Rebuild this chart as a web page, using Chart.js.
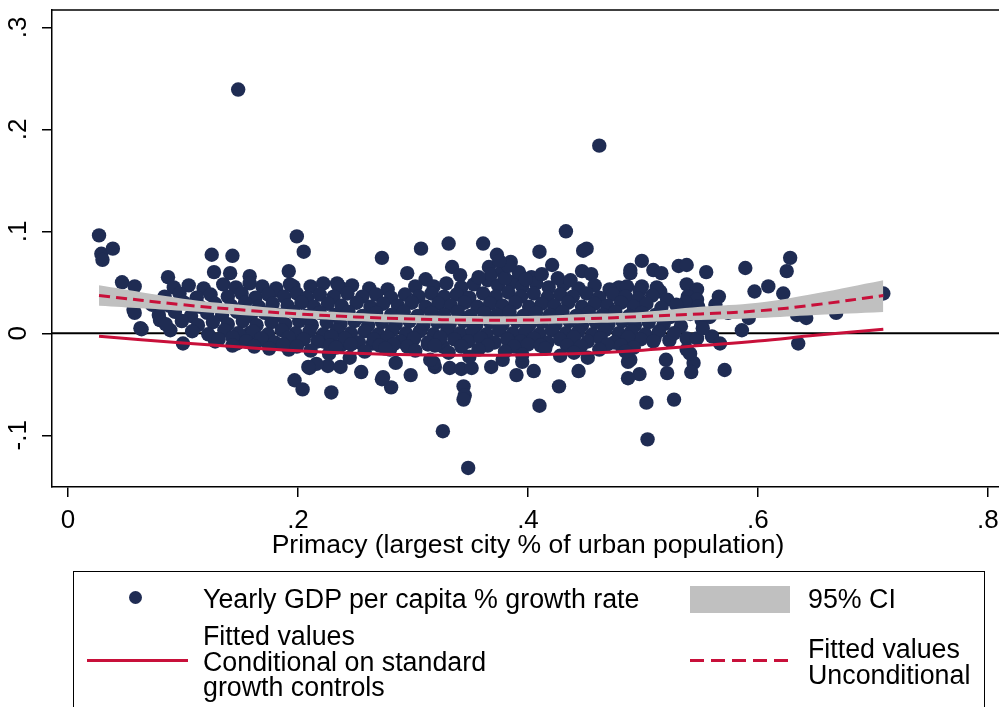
<!DOCTYPE html>
<html>
<head>
<meta charset="utf-8">
<script src="https://cdn.jsdelivr.net/npm/chart.js@4/dist/chart.umd.min.js"></script>
<style>
  body { margin:0; background:#fff; }
  #wrap { position:relative; width:999px; height:707px; overflow:hidden; font-family:"Liberation Sans", Arial, sans-serif; color:#000; }
  #chart { position:absolute; left:0; top:0; }
  .lg { position:absolute; white-space:nowrap; font-size:26.8px; line-height:25.5px; }
  #legend-box { position:absolute; left:73px; top:571px; width:912px; height:160px; border:1.5px solid #000; box-sizing:border-box; }
</style>
</head>
<body>
<div id="wrap">
  <canvas id="chart" width="999" height="707"></canvas>
  <div id="legend-box"></div>
  <div class="lg" style="left:129px;top:591px;width:13px;height:13px;border-radius:50%;background:#1f2c53;"></div>
  <div class="lg" style="left:203px;top:587px;">Yearly GDP per capita % growth rate</div>
  <div class="lg" style="left:690px;top:586px;width:100px;height:27px;background:#c0c0c0;"></div>
  <div class="lg" style="left:808px;top:587px;">95% CI</div>
  <div class="lg" style="left:87px;top:659px;width:101px;height:3px;background:#c8103a;"></div>
  <div class="lg" style="left:203px;top:624px;">Fitted values<br>Conditional on standard<br>growth controls</div>
  <div class="lg" style="left:690px;top:659px;width:100px;height:3px;background:repeating-linear-gradient(90deg,#c8103a 0 14px,transparent 14px 21px);"></div>
  <div class="lg" style="left:808px;top:637px;">Fitted values<br>Unconditional</div>
</div>
<script>
// axes
const xTicks = [0, 0.2, 0.4, 0.6, 0.8];
const xTickLabels = ['0', '.2', '.4', '.6', '.8'];
const yTicks = [-0.1, 0, 0.1, 0.2, 0.3];
const yTickLabels = ['-.1', '0', '.1', '.2', '.3'];
const xTitle = 'Primacy (largest city % of urban population)';

// fitted curves
const fitX           = [0.027, 0.1, 0.15, 0.2, 0.25, 0.3, 0.35, 0.4, 0.45, 0.5, 0.55, 0.6, 0.65, 0.709];
const fitConditional = [-0.003, -0.0095, -0.0135, -0.017, -0.0195, -0.021, -0.0215, -0.021, -0.0195, -0.0165, -0.012, -0.0075, -0.002, 0.004];
const fitUncond      = [0.037, 0.028, 0.023, 0.019, 0.016, 0.014, 0.013, 0.013, 0.0143, 0.0165, 0.019, 0.022, 0.028, 0.037];
const ciLow          = [0.027, 0.022, 0.018, 0.015, 0.012, 0.010, 0.009, 0.009, 0.010, 0.011, 0.013, 0.015, 0.018, 0.021];
const ciHigh         = [0.047, 0.034, 0.028, 0.023, 0.020, 0.018, 0.017, 0.017, 0.019, 0.021, 0.026, 0.030, 0.039, 0.052];

// scatter: [primacy, growth]
const outlierPoints = [
  [0.148,0.239],[0.462,0.184],
  [0.027,0.096],[0.029,0.078],[0.039,0.083],[0.030,0.072],
  [0.047,0.050],[0.058,0.046],[0.057,0.023],[0.073,0.028],[0.063,0.005],[0.058,0.020],[0.064,0.004],[0.080,0.013],[0.089,0.003],
  [0.087,0.055],[0.125,0.077],[0.143,0.076],[0.127,0.060],[0.141,0.059],[0.199,0.095],[0.205,0.080],[0.192,0.061],[0.158,0.056],[0.234,0.049],
  [0.273,0.074],[0.307,0.083],[0.331,0.088],[0.361,0.088],[0.433,0.100],[0.410,0.080],[0.451,0.083],[0.448,0.081],[0.295,0.059],[0.311,0.053],
  [0.334,0.065],[0.373,0.077],[0.366,0.065],[0.341,0.057],[0.421,0.067],[0.447,0.061],[0.455,0.058],[0.489,0.062],[0.479,0.045],[0.302,0.046],
  [0.393,0.057],[0.403,0.055],
  [0.499,0.071],[0.489,0.059],[0.509,0.062],[0.516,0.059],[0.531,0.066],[0.538,0.067],[0.555,0.060],[0.589,0.064],[0.628,0.074],[0.625,0.061],
  [0.609,0.046],[0.597,0.041],[0.622,0.039],[0.566,0.036],[0.538,0.048],[0.547,0.043],[0.499,0.046],[0.515,0.041],[0.709,0.039],
  [0.539,0.036],[0.547,0.033],[0.538,0.025],[0.548,0.021],[0.551,0.013],[0.592,0.015],[0.586,0.003],[0.634,0.018],[0.642,0.015],[0.668,0.020],[0.635,-0.010],
  [0.520,-0.026],[0.489,-0.026],[0.544,-0.029],[0.571,-0.036],[0.521,-0.039],[0.542,-0.038],[0.497,-0.040],[0.560,-0.003],[0.538,-0.005],[0.547,-0.005],
  [0.567,-0.010],[0.510,-0.005],[0.523,-0.007],[0.538,-0.016],[0.541,-0.020],
  [0.326,-0.096],[0.348,-0.132],[0.410,-0.071],[0.427,-0.052],[0.444,-0.037],[0.390,-0.041],[0.405,-0.037],[0.368,-0.033],[0.344,-0.052],[0.345,-0.061],
  [0.344,-0.065],[0.332,-0.034],[0.342,-0.035],[0.351,-0.034],[0.487,-0.044],[0.503,-0.068],[0.504,-0.104],[0.527,-0.065],[0.487,-0.028],[0.395,-0.028],[0.378,-0.026],
  [0.197,-0.046],[0.204,-0.055],[0.229,-0.058],[0.210,-0.034],[0.226,-0.032],[0.237,-0.033],[0.255,-0.038],[0.273,-0.045],[0.281,-0.053],[0.298,-0.041],
  [0.285,-0.029],[0.319,-0.033],[0.318,-0.029],
  [0.100,-0.010],[0.128,-0.008],[0.147,-0.010],[0.192,-0.016],[0.222,-0.008],[0.237,-0.012],[0.227,-0.020],[0.245,-0.024],[0.216,-0.030],[0.265,-0.010],
  [0.280,-0.016],[0.313,-0.011],[0.326,-0.013],[0.315,-0.026],[0.171,-0.007],[0.158,0.000],[0.167,-0.005],[0.274,-0.043],[0.209,-0.033],
  [0.181,0.042],[0.196,0.046],[0.235,0.047]
];

const corePoints = [
  // upper edge of the cloud
  [0.092,0.045],[0.105,0.047],[0.118,0.044],[0.135,0.048],[0.146,0.045],[0.158,0.049],[0.169,0.046],[0.181,0.044],[0.193,0.048],[0.211,0.046],
  [0.222,0.049],[0.236,0.045],[0.247,0.047],[0.262,0.044],[0.278,0.043],[0.318,0.046],[0.329,0.049],[0.342,0.045],[0.353,0.048],[0.365,0.052],
  [0.374,0.047],[0.386,0.050],[0.395,0.046],[0.407,0.049],[0.418,0.045],[0.431,0.048],[0.444,0.044],[0.458,0.047],[0.471,0.043],[0.486,0.046],
  [0.497,0.042],[0.512,0.045],
  [0.368,0.058],[0.378,0.062],[0.385,0.070],[0.392,0.060],[0.380,0.054],[0.398,0.053],[0.412,0.058],[0.357,0.055],[0.426,0.054],[0.437,0.052],
  [0.383,0.066],[0.375,0.071],
  [0.084,0.036],[0.097,0.039],[0.112,0.035],[0.124,0.038],[0.139,0.036],[0.151,0.039],[0.163,0.035],[0.174,0.038],[0.188,0.036],[0.199,0.039],
  [0.208,0.035],[0.219,0.038],[0.231,0.036],[0.243,0.039],[0.256,0.036],[0.268,0.038],[0.281,0.035],[0.293,0.038],[0.305,0.036],[0.316,0.039],
  [0.327,0.036],[0.338,0.038],[0.349,0.035],[0.361,0.039],[0.372,0.036],[0.383,0.040],[0.394,0.036],[0.405,0.039],[0.417,0.035],[0.428,0.038],
  [0.439,0.036],[0.451,0.039],[0.462,0.035],[0.474,0.038],[0.485,0.036],[0.496,0.034],[0.508,0.037],[0.521,0.033],[0.537,0.030],
  [0.088,0.027],[0.101,0.030],[0.115,0.026],[0.128,0.029],[0.142,0.027],[0.154,0.030],[0.166,0.026],[0.178,0.029],[0.191,0.027],[0.203,0.030],
  [0.214,0.026],[0.226,0.029],[0.238,0.027],[0.251,0.030],[0.263,0.026],[0.274,0.029],[0.287,0.027],[0.299,0.030],[0.311,0.026],[0.322,0.029],
  [0.333,0.027],[0.345,0.030],[0.356,0.026],[0.367,0.029],[0.378,0.027],[0.389,0.030],[0.401,0.026],[0.412,0.029],[0.423,0.027],[0.435,0.030],
  [0.447,0.026],[0.458,0.029],[0.469,0.027],[0.481,0.030],[0.492,0.026],[0.503,0.029],[0.516,0.025],[0.529,0.028],[0.548,0.026],[0.563,0.028],
  [0.079,0.018],[0.093,0.021],[0.107,0.017],[0.121,0.020],[0.134,0.018],[0.147,0.021],[0.159,0.017],[0.171,0.020],[0.184,0.018],[0.196,0.021],
  [0.207,0.017],[0.219,0.020],[0.232,0.018],[0.244,0.021],[0.256,0.017],[0.268,0.020],[0.281,0.018],[0.292,0.021],[0.304,0.017],[0.316,0.020],
  [0.327,0.018],[0.339,0.021],[0.350,0.017],[0.362,0.020],[0.373,0.018],[0.384,0.021],[0.396,0.017],[0.407,0.020],[0.419,0.018],[0.430,0.021],
  [0.442,0.017],[0.453,0.020],[0.465,0.018],[0.476,0.021],[0.488,0.017],[0.499,0.020],[0.511,0.018],[0.524,0.016],[0.541,0.019],[0.558,0.016],[0.574,0.020],
  [0.085,0.009],[0.099,0.012],[0.113,0.008],[0.126,0.011],[0.139,0.009],[0.152,0.012],[0.164,0.008],[0.177,0.011],[0.189,0.009],[0.201,0.012],
  [0.212,0.008],[0.225,0.011],[0.237,0.009],[0.249,0.012],[0.261,0.008],[0.273,0.011],[0.285,0.009],[0.297,0.012],[0.309,0.008],[0.321,0.011],
  [0.332,0.009],[0.344,0.012],[0.355,0.008],[0.367,0.011],[0.378,0.009],[0.390,0.012],[0.401,0.008],[0.412,0.011],[0.424,0.009],[0.436,0.012],
  [0.447,0.008],[0.459,0.011],[0.470,0.009],[0.482,0.012],[0.493,0.008],[0.505,0.011],[0.518,0.009],[0.533,0.007],[0.552,0.005],
  [0.108,0.002],[0.122,-0.001],[0.136,0.003],[0.148,0.000],[0.161,0.002],[0.174,-0.001],[0.186,0.003],[0.198,0.000],[0.210,0.002],[0.222,-0.001],
  [0.234,0.003],[0.246,0.000],[0.258,0.002],[0.270,-0.001],[0.282,0.003],[0.294,0.000],[0.306,0.002],[0.318,-0.001],[0.330,0.003],[0.341,0.000],
  [0.352,0.002],[0.364,-0.001],[0.375,0.003],[0.387,0.000],[0.398,0.002],[0.410,-0.001],[0.421,0.003],[0.433,0.000],[0.444,0.002],[0.456,-0.001],
  [0.467,0.003],[0.479,0.000],[0.490,0.002],[0.502,-0.001],[0.514,0.002],[0.527,0.000],
  [0.131,-0.006],[0.155,-0.008],[0.168,-0.005],[0.180,-0.009],[0.205,-0.006],[0.217,-0.008],[0.241,-0.005],[0.253,-0.009],[0.266,-0.006],[0.289,-0.008],
  [0.301,-0.005],[0.313,-0.009],[0.336,-0.006],[0.348,-0.008],[0.359,-0.005],[0.371,-0.009],[0.382,-0.006],[0.394,-0.008],[0.405,-0.005],[0.417,-0.009],
  [0.428,-0.006],[0.452,-0.008],[0.463,-0.005],[0.475,-0.009],[0.498,-0.006],
  [0.143,-0.004],[0.192,-0.004],[0.229,-0.003],[0.278,-0.004],[0.324,-0.004],[0.440,-0.004],[0.487,-0.004],[0.509,-0.008],
  [0.143,-0.012],[0.162,-0.013],[0.187,-0.011],[0.199,-0.013],[0.228,-0.012],[0.246,-0.011],[0.271,-0.012],[0.283,-0.011],[0.295,-0.013],[0.319,-0.012],
  [0.342,-0.013],[0.365,-0.012],[0.388,-0.013],[0.400,-0.011],[0.411,-0.012],[0.434,-0.012],[0.446,-0.013],[0.469,-0.011],[0.481,-0.012],[0.492,-0.014],
  // lower edge
  [0.175,-0.015],[0.211,-0.017],[0.233,-0.014],[0.258,-0.018],[0.276,-0.015],[0.302,-0.017],[0.331,-0.019],[0.357,-0.016],[0.380,-0.018],[0.415,-0.015],
  [0.440,-0.019],[0.462,-0.016],[0.485,-0.018],[0.395,-0.021],[0.349,-0.023],[0.452,-0.024],[0.428,-0.022]
];

const NAVY = '#1f2c53';
const RED = '#c8103a';
const FONT = '"Liberation Sans", Arial, sans-serif';

const toXY = (xs, ys) => xs.map((x, i) => ({x, y: ys[i]}));
const scatterData = outlierPoints.concat(corePoints).map(p => ({x: p[0], y: p[1]}));

// zero line, top frame, rotated y labels, x title
const extras = {
  id: 'extras',
  beforeDatasetsDraw(chart) {
    const {ctx, chartArea, scales} = chart;
    const y0 = scales.y.getPixelForValue(0);
    ctx.save();
    ctx.strokeStyle = '#000';
    ctx.lineWidth = 2;
    ctx.beginPath();
    ctx.moveTo(chartArea.left, y0);
    ctx.lineTo(chartArea.right, y0);
    ctx.stroke();
    ctx.restore();
  },
  afterDraw(chart) {
    const {ctx, chartArea, scales} = chart;
    ctx.save();
    ctx.strokeStyle = '#000';
    ctx.lineWidth = 1.5;
    ctx.beginPath();
    ctx.moveTo(chartArea.left, chartArea.top);
    ctx.lineTo(chartArea.right, chartArea.top);
    ctx.stroke();

    ctx.fillStyle = '#000';
    ctx.font = '26px ' + FONT;
    ctx.textAlign = 'center';
    ctx.textBaseline = 'middle';
    yTicks.forEach((v, i) => {
      const py = scales.y.getPixelForValue(v);
      ctx.save();
      ctx.translate(19, py);
      ctx.rotate(-Math.PI / 2);
      ctx.fillText(yTickLabels[i], 0, 0);
      ctx.restore();
    });
    ctx.font = '26.5px ' + FONT;
    ctx.fillText(xTitle, scales.x.getPixelForValue(0.4), 546);
    ctx.restore();
  }
};

new Chart(document.getElementById('chart').getContext('2d'), {
  type: 'scatter',
  data: {
    datasets: [
      { label: 'Yearly GDP per capita % growth rate', data: scatterData, order: 5,
        pointRadius: 7.2, pointBackgroundColor: NAVY, pointBorderColor: NAVY, pointBorderWidth: 0 },
      { label: 'ci low', type: 'line', data: toXY(fitX, ciLow), order: 3,
        borderWidth: 0, pointRadius: 0, tension: 0.4, fill: false },
      { label: '95% CI', type: 'line', data: toXY(fitX, ciHigh), order: 3,
        borderWidth: 0, pointRadius: 0, tension: 0.4, fill: '-1', backgroundColor: '#c0c0c0' },
      { label: 'Fitted values Unconditional', type: 'line', data: toXY(fitX, fitUncond), order: 2,
        borderColor: RED, borderWidth: 3, borderDash: [11, 6], pointRadius: 0, tension: 0.4, fill: false },
      { label: 'Fitted values Conditional', type: 'line', data: toXY(fitX, fitConditional), order: 1,
        borderColor: RED, borderWidth: 3, pointRadius: 0, tension: 0.4, fill: false }
    ]
  },
  plugins: [extras],
  options: {
    responsive: false,
    animation: false,
    devicePixelRatio: 1,
    layout: { autoPadding: false, padding: { top: 10, right: 0, left: 0, bottom: 0 } },
    plugins: { legend: { display: false }, tooltip: { enabled: false } },
    scales: {
      x: {
        type: 'linear', min: -0.0139, max: 0.8096,
        afterBuildTicks: s => { s.ticks = xTicks.map(v => ({value: v})); },
        afterFit: s => { s.height = 220; s.paddingLeft = 0; s.paddingRight = 0; },
        border: { color: '#000', width: 1.5 },
        grid: { drawOnChartArea: false, tickLength: 10, color: '#000', lineWidth: 1.5 },
        ticks: { color: '#000', font: { family: FONT, size: 26 }, padding: 8, maxRotation: 0,
                 callback: (v) => xTickLabels[xTicks.indexOf(v)] }
      },
      y: {
        type: 'linear', min: -0.1507, max: 0.317,
        afterBuildTicks: s => { s.ticks = yTicks.map(v => ({value: v})); },
        afterFit: s => { s.width = 52; s.paddingTop = 0; s.paddingBottom = 0; },
        border: { color: '#000', width: 1.5 },
        grid: { drawOnChartArea: false, tickLength: 10, color: '#000', lineWidth: 1.5 },
        ticks: { display: false }
      }
    }
  }
});
</script>
</body>
</html>
